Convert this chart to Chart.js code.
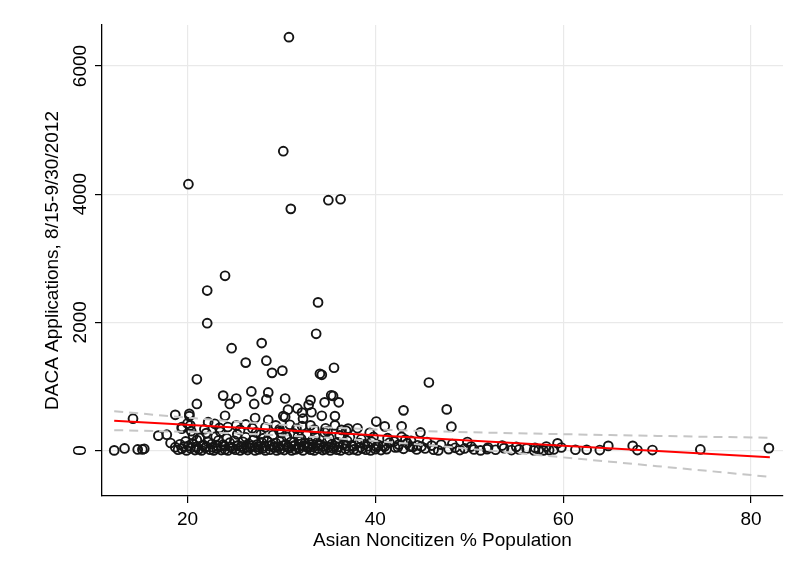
<!DOCTYPE html>
<html>
<head>
<meta charset="utf-8">
<script src="https://cdn.jsdelivr.net/npm/chart.js@4"></script>
<style>
  html, body { margin: 0; padding: 0; background: #fff; }
  #wrap { width: 790px; height: 577px; }
</style>
</head>
<body>
<div id="wrap"><canvas id="graficoDaca" width="790" height="577"></canvas></div>
<script>
// % de población asiática no ciudadana por condado (eje x)
const pctAsian = [
  // izquierda, dispersos
  12.2, 13.3, 14.7, 15.2, 15.4, 14.2, 16.9, 17.8, 18.7, 18.2, 18.7, 19.4, 20.4, 20.2, 20.0, 20.2,
  // valores altos
  30.8, 30.2, 20.1, 31.0, 35.0, 36.3, 24.0, 22.1, 33.9, 22.1, 33.7, 24.7, 27.9, 26.2, 28.4, 29.0,
  30.1, 21.0, 34.1, 34.3, 35.6, 45.7,
  // zona media
  21.0, 23.8, 24.5, 25.2, 26.8, 27.1, 28.6, 28.4, 30.4, 24.0, 27.2, 26.2, 28.6, 30.2, 30.4, 30.7,
  31.7, 32.2, 32.9, 33.1, 33.2, 32.3, 34.3, 34.6, 35.3, 35.5, 36.1, 35.7, 35.7, 34.7, 38.1, 40.1,
  41.0, 43.0, 42.8, 47.6, 48.1, 44.8, 36.9, 39.4, 42.8, 22.2, 22.9, 24.3, 25.2, 28.3, 29.4, 30.9,
  32.2, 33.1, 19.4, 20.3, 37.1, 49.8, 59.4, 48.2,
  21.8, 23.4, 25.6, 26.9, 29.8, 31.6, 33.5, 34.9, 36.4, 27.8, 30.0, 31.8,
  // base densa, cerca de 0
  19.0, 19.4, 19.9, 20.3, 20.8, 21.2, 21.5, 21.9, 22.4, 22.8, 23.1, 23.6, 24.0, 24.3, 24.8, 25.1,
  25.6, 26.0, 26.4, 26.7, 27.2, 27.6, 28.0, 28.3, 28.8, 29.2, 29.5, 29.9, 30.3, 30.8, 31.1, 31.5,
  31.9, 32.3, 32.8, 33.1, 33.5, 33.9, 34.4, 34.7, 35.2, 35.5, 35.9, 36.3, 36.8, 37.2, 37.7, 38.1,
  38.6, 39.0, 39.5, 40.0, 40.6,
  19.6, 20.1, 20.9, 21.6, 22.0, 22.7, 23.2, 23.9, 24.6, 25.3, 25.8, 26.3, 26.9, 27.5, 28.2, 28.7,
  29.3, 29.7, 30.2, 30.7, 31.3, 31.8, 32.4, 32.9, 33.4, 34.0, 34.5, 35.0, 35.7, 36.1, 36.9, 37.6,
  38.4, 39.2, 40.1, 41.0, 42.4, 44.0,
  19.2, 19.8, 20.5, 21.0, 21.7, 22.2, 22.6, 23.3, 23.8, 24.5, 25.0, 25.4, 25.9, 26.5, 27.0, 27.4,
  27.9, 28.5, 29.0, 29.4, 30.0, 30.5, 31.0, 31.4, 32.0, 32.5, 33.0, 33.3, 33.8, 34.2, 34.9, 35.4,
  36.0, 36.6, 37.0, 37.5, 38.3, 38.9, 39.6, 40.3, 41.5, 42.5, 43.4, 44.5,
  20.6, 21.3, 22.0, 23.0, 23.5, 24.2, 25.3, 26.2, 27.3, 28.1, 29.1, 29.8, 30.6, 31.3, 32.1, 32.7,
  33.6, 34.6, 35.1, 36.2, 37.3, 38.5, 39.8, 41.3, 43.2,
  // derecha
  41.2, 42.1, 43.0, 43.7, 44.4, 45.3, 46.2, 46.7, 47.8, 49.0, 50.5, 51.2, 51.9, 52.8, 53.7, 54.5,
  55.3, 56.1, 56.9, 57.4, 57.9, 58.5, 59.0, 45.5, 47.0, 50.2, 52.0, 53.5, 55.0, 57.0, 58.2, 59.8,
  40.8, 42.0, 43.8, 44.9, 46.0, 48.5, 49.5,
  61.3, 62.5, 63.9, 64.8, 67.4, 67.9, 69.5, 74.6, 81.9
];

// solicitudes DACA 15/8 - 30/9/2012 (eje y)
const dacaApps = [
  0, 30, 15, 15, 25, 495, 230, 245, 555, 115, 50, 365, 300, 570, 420, 535,
  6450, 4670, 4155, 3770, 3905, 3920, 2725, 2495, 2310, 1985, 1820, 1595, 1675, 1370, 1400, 1210,
  1245, 1110, 1195, 1180, 1290, 1060,
  725, 855, 725, 810, 920, 725, 905, 795, 810, 540, 505, 405, 475, 535, 520, 635,
  655, 590, 710, 785, 595, 495, 540, 750, 860, 850, 750, 535, 390, 345, 345, 450,
  375, 625, 375, 640, 370, 280, 305, 275, 210, 440, 415, 365, 390, 360, 390, 400,
  380, 390, 340, 390, 340, 130, 110, 100,
  330, 350, 320, 345, 330, 340, 325, 300, 320, 250, 270, 230,
  10, 25, 0, 35, 5, 20, 0, 40, 10, 0, 30, 5, 15, 0, 35, 10,
  0, 25, 5, 40, 0, 15, 30, 0, 10, 45, 0, 20, 5, 35, 0, 15,
  25, 0, 40, 10, 0, 30, 5, 20, 0, 35, 10, 0, 25, 5, 15, 0,
  30, 10, 0, 20, 5,
  60, 70, 55, 75, 60, 50, 70, 65, 55, 70, 60, 50, 75, 55, 65, 70,
  50, 60, 75, 55, 65, 50, 70, 60, 55, 75, 60, 50, 65, 55, 70, 60,
  50, 65, 55, 60, 50, 55,
  95, 140, 110, 160, 85, 130, 100, 155, 90, 120, 150, 80, 135, 105, 160, 90,
  125, 145, 85, 115, 150, 95, 130, 80, 145, 110, 90, 155, 120, 85, 140, 100,
  125, 90, 150, 80, 115, 95, 135, 85, 120, 90, 110, 80,
  230, 195, 270, 215, 290, 185, 250, 205, 280, 190, 240, 300, 210, 265, 180, 245,
  215, 280, 190, 235, 200, 175, 210, 190, 170,
  20, 45, 25, 60, 15, 30, 10, 0, 20, 5, 15, 0, 20, 10, 35, 5,
  15, 30, 0, 10, 0, 5, 15, 130, 90, 60, 45, 75, 55, 40, 60, 45,
  70, 140, 150, 60, 75, 40, 30,
  10, 10, 5, 70, 70, 5, 5, 15, 35
];

// recta de ajuste y banda de confianza
const fitX = [12.2, 82.0];
const fitY = [464, -107];
const ciX = [12.2, 15, 20, 25, 30, 35, 40, 45, 50, 55, 60, 65, 70, 75, 82.0];
const ciUpper = [612, 575, 511, 452, 399, 357, 326, 302, 283, 267, 253, 239, 226, 213, 197];
const ciLower = [316, 307, 289, 266, 237, 197, 146, 88, 25, -41, -109, -177, -246, -315, -413];

const xTicks = [20, 40, 60, 80];
const yTicks = [0, 2000, 4000, 6000];

function aPuntos(xs, ys) {
  return xs.map((x, i) => ({ x: x, y: ys[i] }));
}

function dibujarGrafico() {
  Chart.defaults.font.family = "'Liberation Sans', Arial, Helvetica, sans-serif";
  Chart.defaults.font.size = 19;
  Chart.defaults.color = "#000";

  const rejilla = { color: "#e9e9e9", lineWidth: 1.2, tickColor: "#000", tickLength: 7, tickWidth: 1.2 };
  const borde = { color: "#000", width: 1.3 };

  new Chart(document.getElementById("graficoDaca"), {
    type: "scatter",
    data: {
      datasets: [
        {
          type: "line",
          label: "Fitted values",
          data: aPuntos(fitX, fitY),
          borderColor: "#ff0000",
          borderWidth: 2,
          pointRadius: 0,
          showLine: true,
          fill: false
        },
        {
          type: "line",
          label: "95% CI",
          data: aPuntos(ciX, ciUpper),
          borderColor: "#c6c6c6",
          borderWidth: 2,
          borderDash: [9, 6],
          pointRadius: 0,
          showLine: true,
          fill: false
        },
        {
          type: "line",
          label: "95% CI",
          data: aPuntos(ciX, ciLower),
          borderColor: "#c6c6c6",
          borderWidth: 2,
          borderDash: [9, 6],
          pointRadius: 0,
          showLine: true,
          fill: false
        },
        {
          label: "DACA Applications",
          data: aPuntos(pctAsian, dacaApps),
          pointStyle: "circle",
          pointRadius: 4.4,
          pointBorderWidth: 1.9,
          pointBorderColor: "#151515",
          pointBackgroundColor: "rgba(0,0,0,0)"
        }
      ]
    },
    options: {
      responsive: false,
      animation: false,
      layout: { padding: { top: 25, right: 7, bottom: 0, left: 0 } },
      plugins: { legend: { display: false }, tooltip: { enabled: false } },
      scales: {
        x: {
          type: "linear",
          min: 10.9,
          max: 83.4,
          afterBuildTicks: s => { s.ticks = xTicks.map(v => ({ value: v })); },
          afterFit: s => { s.height = 81; },
          grid: rejilla,
          border: borde,
          ticks: { padding: 5, maxRotation: 0, callback: v => String(v) },
          title: { display: true, text: "Asian Noncitizen % Population", padding: { top: 0, bottom: 25 } }
        },
        y: {
          type: "linear",
          min: -712,
          max: 6640,
          afterBuildTicks: s => { s.ticks = yTicks.map(v => ({ value: v })); },
          afterFit: s => { s.width = 102; },
          grid: rejilla,
          border: borde,
          ticks: { minRotation: 90, maxRotation: 90, padding: -7, crossAlign: "center", callback: v => String(v) },
          title: { display: true, text: "DACA Applications, 8/15-9/30/2012", padding: { top: 41, bottom: 0 } }
        }
      }
    }
  });
}

document.addEventListener("DOMContentLoaded", dibujarGrafico);
</script>
</body>
</html>
